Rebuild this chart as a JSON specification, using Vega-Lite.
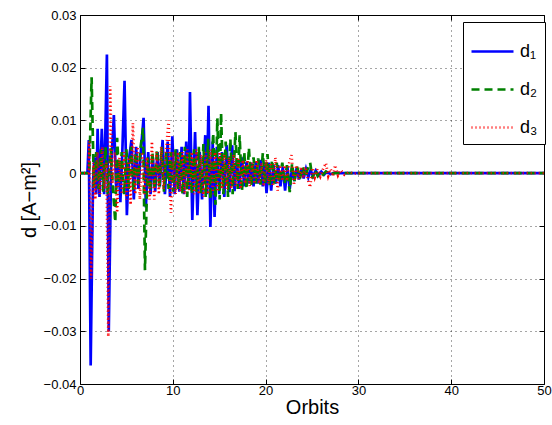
{
  "$schema": "https://vega.github.io/schema/vega-lite/v6.json",
  "width": 464,
  "height": 369,
  "autosize": {"type": "none"},
  "padding": {"left": 80, "top": 15, "right": 8, "bottom": 41},
  "background": "white",
  "config": {
    "font": "Liberation Sans",
    "view": {"stroke": "#000", "strokeWidth": 1},
    "axis": {
      "labelColor": "#000", "titleColor": "#000", "domain": false,
      "tickColor": "#000", "labelFontSize": 13, "titleFontSize": 20, "titleFontWeight": "normal"
    }
  },
  "data": {
    "values": [
      {"s": "d₁", "t": 0, "v": 0}, {"s": "d₁", "t": 0.8, "v": 0}, {"s": "d₁", "t": 0.95, "v": 0.0063},
      {"s": "d₁", "t": 1.15, "v": -0.0365}, {"s": "d₁", "t": 1.4, "v": -0.002}, {"s": "d₁", "t": 1.55, "v": 0.003},
      {"s": "d₁", "t": 1.75, "v": -0.004}, {"s": "d₁", "t": 1.9, "v": 0.0084}, {"s": "d₁", "t": 2.1, "v": -0.0045},
      {"s": "d₁", "t": 2.35, "v": 0.0084}, {"s": "d₁", "t": 2.6, "v": -0.004}, {"s": "d₁", "t": 2.9, "v": 0.0225},
      {"s": "d₁", "t": 3.1, "v": -0.03}, {"s": "d₁", "t": 3.35, "v": 0.001}, {"s": "d₁", "t": 3.65, "v": 0.011},
      {"s": "d₁", "t": 3.9, "v": -0.003}, {"s": "d₁", "t": 4.15, "v": 0.002}, {"s": "d₁", "t": 4.35, "v": -0.0055},
      {"s": "d₁", "t": 4.55, "v": 0.0035}, {"s": "d₁", "t": 4.8, "v": 0.0175}, {"s": "d₁", "t": 5.05, "v": -0.008},
      {"s": "d₁", "t": 5.3, "v": 0.003}, {"s": "d₁", "t": 5.55, "v": 0.0063}, {"s": "d₁", "t": 5.8, "v": -0.005},
      {"s": "d₁", "t": 6.05, "v": 0.005}, {"s": "d₁", "t": 6.3, "v": -0.003}, {"s": "d₁", "t": 6.55, "v": 0.004},
      {"s": "d₁", "t": 6.85, "v": 0.0105}, {"s": "d₁", "t": 7.1, "v": -0.0065}, {"s": "d₁", "t": 7.35, "v": 0.004},
      {"s": "d₁", "t": 7.6, "v": -0.004}, {"s": "d₁", "t": 7.85, "v": 0.003}, {"s": "d₁", "t": 8.1, "v": -0.0035},
      {"s": "d₁", "t": 8.35, "v": 0.004}, {"s": "d₁", "t": 8.6, "v": -0.0025}, {"s": "d₁", "t": 8.9, "v": 0.0063},
      {"s": "d₁", "t": 9.15, "v": -0.004}, {"s": "d₁", "t": 9.45, "v": 0.006}, {"s": "d₁", "t": 9.7, "v": -0.0045},
      {"s": "d₁", "t": 9.95, "v": 0.007}, {"s": "d₁", "t": 10.2, "v": -0.004}, {"s": "d₁", "t": 10.45, "v": 0.0045},
      {"s": "d₁", "t": 10.7, "v": -0.0035}, {"s": "d₁", "t": 10.95, "v": 0.005}, {"s": "d₁", "t": 11.2, "v": -0.004},
      {"s": "d₁", "t": 11.45, "v": 0.006}, {"s": "d₁", "t": 11.7, "v": -0.003}, {"s": "d₁", "t": 11.85, "v": 0.0154},
      {"s": "d₁", "t": 12.1, "v": -0.0089}, {"s": "d₁", "t": 12.4, "v": 0.0078}, {"s": "d₁", "t": 12.65, "v": -0.008},
      {"s": "d₁", "t": 12.9, "v": 0.004}, {"s": "d₁", "t": 13.15, "v": -0.005}, {"s": "d₁", "t": 13.5, "v": 0.0072},
      {"s": "d₁", "t": 13.65, "v": -0.004}, {"s": "d₁", "t": 13.85, "v": 0.0128}, {"s": "d₁", "t": 14.05, "v": -0.0102},
      {"s": "d₁", "t": 14.3, "v": 0.006}, {"s": "d₁", "t": 14.5, "v": -0.0083}, {"s": "d₁", "t": 14.75, "v": 0.005},
      {"s": "d₁", "t": 15.0, "v": -0.004}, {"s": "d₁", "t": 15.3, "v": 0.004}, {"s": "d₁", "t": 15.55, "v": -0.0045},
      {"s": "d₁", "t": 15.8, "v": 0.0053}, {"s": "d₁", "t": 16.1, "v": -0.0036}, {"s": "d₁", "t": 16.4, "v": 0.0053},
      {"s": "d₁", "t": 16.65, "v": -0.0034}, {"s": "d₁", "t": 16.9, "v": 0.0025}, {"s": "d₁", "t": 17.15, "v": -0.003},
      {"s": "d₁", "t": 17.45, "v": 0.003}, {"s": "d₁", "t": 17.7, "v": -0.0025}, {"s": "d₁", "t": 17.95, "v": 0.0022},
      {"s": "d₁", "t": 18.2, "v": -0.002}, {"s": "d₁", "t": 18.45, "v": 0.002}, {"s": "d₁", "t": 18.7, "v": -0.0025},
      {"s": "d₁", "t": 18.95, "v": 0.0022}, {"s": "d₁", "t": 19.2, "v": -0.002}, {"s": "d₁", "t": 19.45, "v": 0.0025},
      {"s": "d₁", "t": 19.7, "v": -0.0025}, {"s": "d₁", "t": 19.9, "v": 0.002}, {"s": "d₁", "t": 20.1, "v": -0.0038},
      {"s": "d₁", "t": 20.35, "v": 0.002}, {"s": "d₁", "t": 20.6, "v": -0.0033}, {"s": "d₁", "t": 20.85, "v": 0.0015},
      {"s": "d₁", "t": 21.1, "v": -0.002}, {"s": "d₁", "t": 21.35, "v": 0.0015}, {"s": "d₁", "t": 21.6, "v": -0.0025},
      {"s": "d₁", "t": 21.85, "v": 0.0012}, {"s": "d₁", "t": 22.1, "v": -0.0033}, {"s": "d₁", "t": 22.35, "v": 0.0012},
      {"s": "d₁", "t": 22.6, "v": -0.003}, {"s": "d₁", "t": 22.85, "v": 0.001}, {"s": "d₁", "t": 23.1, "v": -0.0015},
      {"s": "d₁", "t": 23.35, "v": 0.001}, {"s": "d₁", "t": 23.6, "v": -0.0012}, {"s": "d₁", "t": 23.85, "v": 0.0008},
      {"s": "d₁", "t": 24.1, "v": -0.001}, {"s": "d₁", "t": 24.35, "v": 0.0008}, {"s": "d₁", "t": 24.6, "v": -0.0008},
      {"s": "d₁", "t": 24.85, "v": 0.0006}, {"s": "d₁", "t": 25.1, "v": -0.0006}, {"s": "d₁", "t": 25.4, "v": 0.0005},
      {"s": "d₁", "t": 25.7, "v": -0.0004}, {"s": "d₁", "t": 26.0, "v": 0.0003}, {"s": "d₁", "t": 26.3, "v": -0.0003},
      {"s": "d₁", "t": 26.6, "v": 0.0002}, {"s": "d₁", "t": 27.0, "v": -0.0002}, {"s": "d₁", "t": 27.5, "v": 0.0001},
      {"s": "d₁", "t": 28, "v": 0}, {"s": "d₁", "t": 50, "v": 0},

      {"s": "d₂", "t": 0, "v": 0}, {"s": "d₂", "t": 1.0, "v": 0}, {"s": "d₂", "t": 1.25, "v": 0.0182},
      {"s": "d₂", "t": 1.5, "v": -0.0028}, {"s": "d₂", "t": 1.75, "v": 0.004}, {"s": "d₂", "t": 2.0, "v": -0.003},
      {"s": "d₂", "t": 2.25, "v": 0.0045}, {"s": "d₂", "t": 2.5, "v": -0.0035}, {"s": "d₂", "t": 2.75, "v": 0.005},
      {"s": "d₂", "t": 3.0, "v": -0.004}, {"s": "d₂", "t": 3.3, "v": 0.0047}, {"s": "d₂", "t": 3.55, "v": -0.003},
      {"s": "d₂", "t": 3.8, "v": -0.0093}, {"s": "d₂", "t": 4.0, "v": 0.0067}, {"s": "d₂", "t": 4.25, "v": -0.002},
      {"s": "d₂", "t": 4.5, "v": 0.004}, {"s": "d₂", "t": 4.75, "v": -0.004}, {"s": "d₂", "t": 5.0, "v": 0.0045},
      {"s": "d₂", "t": 5.25, "v": -0.003}, {"s": "d₂", "t": 5.5, "v": 0.005}, {"s": "d₂", "t": 5.75, "v": -0.0035},
      {"s": "d₂", "t": 6.0, "v": 0.004}, {"s": "d₂", "t": 6.25, "v": -0.002}, {"s": "d₂", "t": 6.5, "v": 0.0045},
      {"s": "d₂", "t": 6.8, "v": 0.0086}, {"s": "d₂", "t": 7.0, "v": -0.0184}, {"s": "d₂", "t": 7.3, "v": 0.003},
      {"s": "d₂", "t": 7.55, "v": -0.0035}, {"s": "d₂", "t": 7.8, "v": 0.004}, {"s": "d₂", "t": 8.05, "v": -0.003},
      {"s": "d₂", "t": 8.3, "v": 0.0045}, {"s": "d₂", "t": 8.55, "v": -0.003}, {"s": "d₂", "t": 8.8, "v": 0.005},
      {"s": "d₂", "t": 9.05, "v": -0.0035}, {"s": "d₂", "t": 9.3, "v": 0.004}, {"s": "d₂", "t": 9.55, "v": -0.003},
      {"s": "d₂", "t": 9.8, "v": 0.004}, {"s": "d₂", "t": 10.05, "v": -0.0035}, {"s": "d₂", "t": 10.3, "v": 0.0045},
      {"s": "d₂", "t": 10.55, "v": -0.003}, {"s": "d₂", "t": 10.8, "v": 0.004}, {"s": "d₂", "t": 11.05, "v": -0.004},
      {"s": "d₂", "t": 11.3, "v": 0.005}, {"s": "d₂", "t": 11.55, "v": -0.0045}, {"s": "d₂", "t": 11.8, "v": 0.004},
      {"s": "d₂", "t": 12.05, "v": -0.004}, {"s": "d₂", "t": 12.3, "v": 0.0045}, {"s": "d₂", "t": 12.55, "v": -0.0035},
      {"s": "d₂", "t": 12.8, "v": 0.005}, {"s": "d₂", "t": 13.05, "v": -0.004}, {"s": "d₂", "t": 13.3, "v": 0.0055},
      {"s": "d₂", "t": 13.55, "v": -0.0045}, {"s": "d₂", "t": 13.8, "v": 0.0065}, {"s": "d₂", "t": 14.05, "v": -0.005},
      {"s": "d₂", "t": 14.35, "v": 0.0076}, {"s": "d₂", "t": 14.6, "v": -0.006}, {"s": "d₂", "t": 14.8, "v": 0.0104},
      {"s": "d₂", "t": 15.05, "v": -0.005}, {"s": "d₂", "t": 15.2, "v": 0.0114}, {"s": "d₂", "t": 15.45, "v": -0.004},
      {"s": "d₂", "t": 15.7, "v": 0.006}, {"s": "d₂", "t": 15.95, "v": -0.0045}, {"s": "d₂", "t": 16.2, "v": 0.0065},
      {"s": "d₂", "t": 16.45, "v": -0.004}, {"s": "d₂", "t": 16.75, "v": 0.0078}, {"s": "d₂", "t": 17.0, "v": -0.003},
      {"s": "d₂", "t": 17.2, "v": 0.0072}, {"s": "d₂", "t": 17.45, "v": -0.0035}, {"s": "d₂", "t": 17.7, "v": 0.004},
      {"s": "d₂", "t": 17.95, "v": -0.003}, {"s": "d₂", "t": 18.2, "v": 0.0048}, {"s": "d₂", "t": 18.45, "v": -0.0025},
      {"s": "d₂", "t": 18.7, "v": 0.003}, {"s": "d₂", "t": 18.95, "v": -0.002}, {"s": "d₂", "t": 19.2, "v": 0.0028},
      {"s": "d₂", "t": 19.45, "v": -0.0022}, {"s": "d₂", "t": 19.7, "v": 0.0038}, {"s": "d₂", "t": 19.95, "v": -0.002},
      {"s": "d₂", "t": 20.2, "v": 0.0036}, {"s": "d₂", "t": 20.45, "v": -0.0025}, {"s": "d₂", "t": 20.7, "v": 0.0025},
      {"s": "d₂", "t": 20.95, "v": -0.002}, {"s": "d₂", "t": 21.2, "v": 0.002}, {"s": "d₂", "t": 21.45, "v": -0.0018},
      {"s": "d₂", "t": 21.8, "v": 0.002}, {"s": "d₂", "t": 22.05, "v": -0.002}, {"s": "d₂", "t": 22.3, "v": 0.0015},
      {"s": "d₂", "t": 22.6, "v": -0.0036}, {"s": "d₂", "t": 22.85, "v": 0.0018}, {"s": "d₂", "t": 23.1, "v": -0.0015},
      {"s": "d₂", "t": 23.4, "v": 0.0012}, {"s": "d₂", "t": 23.7, "v": -0.001}, {"s": "d₂", "t": 24.0, "v": 0.0012},
      {"s": "d₂", "t": 24.3, "v": -0.0008}, {"s": "d₂", "t": 24.55, "v": 0.0009}, {"s": "d₂", "t": 24.8, "v": 0.002},
      {"s": "d₂", "t": 25.05, "v": -0.001}, {"s": "d₂", "t": 25.3, "v": 0.0006}, {"s": "d₂", "t": 25.6, "v": -0.0005},
      {"s": "d₂", "t": 25.9, "v": 0.0004}, {"s": "d₂", "t": 26.2, "v": -0.0003}, {"s": "d₂", "t": 26.5, "v": 0.0003},
      {"s": "d₂", "t": 27.0, "v": -0.0002}, {"s": "d₂", "t": 27.5, "v": 0}, {"s": "d₂", "t": 50, "v": 0},

      {"s": "d₃", "t": 0, "v": 0}, {"s": "d₃", "t": 0.9, "v": 0}, {"s": "d₃", "t": 1.0, "v": 0.006},
      {"s": "d₃", "t": 1.2, "v": -0.02}, {"s": "d₃", "t": 1.45, "v": 0.002}, {"s": "d₃", "t": 1.65, "v": -0.005},
      {"s": "d₃", "t": 1.9, "v": 0.004}, {"s": "d₃", "t": 2.15, "v": -0.004}, {"s": "d₃", "t": 2.4, "v": 0.005},
      {"s": "d₃", "t": 2.65, "v": -0.003}, {"s": "d₃", "t": 2.85, "v": 0.002}, {"s": "d₃", "t": 3.05, "v": -0.031},
      {"s": "d₃", "t": 3.25, "v": 0.0165}, {"s": "d₃", "t": 3.5, "v": -0.002}, {"s": "d₃", "t": 3.75, "v": 0.004},
      {"s": "d₃", "t": 4.0, "v": -0.0075}, {"s": "d₃", "t": 4.25, "v": 0.003}, {"s": "d₃", "t": 4.5, "v": -0.004},
      {"s": "d₃", "t": 4.75, "v": 0.004}, {"s": "d₃", "t": 5.0, "v": -0.005}, {"s": "d₃", "t": 5.25, "v": 0.003},
      {"s": "d₃", "t": 5.45, "v": -0.006}, {"s": "d₃", "t": 5.7, "v": 0.0095}, {"s": "d₃", "t": 5.95, "v": -0.004},
      {"s": "d₃", "t": 6.2, "v": 0.005}, {"s": "d₃", "t": 6.45, "v": -0.005}, {"s": "d₃", "t": 6.7, "v": 0.004},
      {"s": "d₃", "t": 6.95, "v": -0.004}, {"s": "d₃", "t": 7.2, "v": 0.003}, {"s": "d₃", "t": 7.5, "v": -0.005},
      {"s": "d₃", "t": 7.75, "v": 0.006}, {"s": "d₃", "t": 8.0, "v": -0.005}, {"s": "d₃", "t": 8.25, "v": 0.004},
      {"s": "d₃", "t": 8.5, "v": -0.004}, {"s": "d₃", "t": 8.75, "v": 0.005}, {"s": "d₃", "t": 9.0, "v": -0.003},
      {"s": "d₃", "t": 9.25, "v": 0.004}, {"s": "d₃", "t": 9.55, "v": 0.01}, {"s": "d₃", "t": 9.8, "v": -0.0075},
      {"s": "d₃", "t": 10.05, "v": 0.004}, {"s": "d₃", "t": 10.3, "v": -0.004}, {"s": "d₃", "t": 10.55, "v": 0.004},
      {"s": "d₃", "t": 10.8, "v": -0.0035}, {"s": "d₃", "t": 11.05, "v": 0.004}, {"s": "d₃", "t": 11.3, "v": -0.004},
      {"s": "d₃", "t": 11.55, "v": 0.0045}, {"s": "d₃", "t": 11.8, "v": -0.0035}, {"s": "d₃", "t": 12.05, "v": 0.004},
      {"s": "d₃", "t": 12.3, "v": -0.004}, {"s": "d₃", "t": 12.55, "v": 0.0045}, {"s": "d₃", "t": 12.8, "v": -0.004},
      {"s": "d₃", "t": 13.05, "v": 0.0035}, {"s": "d₃", "t": 13.3, "v": -0.0045}, {"s": "d₃", "t": 13.55, "v": 0.004},
      {"s": "d₃", "t": 13.8, "v": -0.004}, {"s": "d₃", "t": 14.05, "v": 0.0045}, {"s": "d₃", "t": 14.3, "v": -0.004},
      {"s": "d₃", "t": 14.55, "v": 0.004}, {"s": "d₃", "t": 14.8, "v": -0.0035}, {"s": "d₃", "t": 15.05, "v": 0.004},
      {"s": "d₃", "t": 15.3, "v": -0.003}, {"s": "d₃", "t": 15.55, "v": 0.0035}, {"s": "d₃", "t": 15.8, "v": -0.003},
      {"s": "d₃", "t": 16.05, "v": 0.003}, {"s": "d₃", "t": 16.3, "v": -0.003}, {"s": "d₃", "t": 16.55, "v": 0.0035},
      {"s": "d₃", "t": 16.8, "v": -0.0025}, {"s": "d₃", "t": 17.05, "v": 0.003}, {"s": "d₃", "t": 17.3, "v": -0.003},
      {"s": "d₃", "t": 17.55, "v": 0.0025}, {"s": "d₃", "t": 17.8, "v": -0.002}, {"s": "d₃", "t": 18.05, "v": 0.0025},
      {"s": "d₃", "t": 18.3, "v": -0.0025}, {"s": "d₃", "t": 18.55, "v": 0.002}, {"s": "d₃", "t": 18.8, "v": -0.002},
      {"s": "d₃", "t": 19.05, "v": 0.0025}, {"s": "d₃", "t": 19.3, "v": -0.002}, {"s": "d₃", "t": 19.55, "v": 0.002},
      {"s": "d₃", "t": 19.8, "v": -0.0025}, {"s": "d₃", "t": 20.05, "v": 0.0025}, {"s": "d₃", "t": 20.3, "v": -0.002},
      {"s": "d₃", "t": 20.55, "v": 0.002}, {"s": "d₃", "t": 20.8, "v": -0.0025}, {"s": "d₃", "t": 21.05, "v": 0.003},
      {"s": "d₃", "t": 21.3, "v": -0.0033}, {"s": "d₃", "t": 21.55, "v": 0.0015}, {"s": "d₃", "t": 21.8, "v": -0.0015},
      {"s": "d₃", "t": 22.05, "v": 0.0015}, {"s": "d₃", "t": 22.3, "v": -0.0015}, {"s": "d₃", "t": 22.55, "v": 0.002},
      {"s": "d₃", "t": 22.8, "v": 0.0034}, {"s": "d₃", "t": 23.05, "v": -0.0023}, {"s": "d₃", "t": 23.3, "v": 0.0015},
      {"s": "d₃", "t": 23.55, "v": -0.0012}, {"s": "d₃", "t": 23.8, "v": 0.0012}, {"s": "d₃", "t": 24.05, "v": -0.001},
      {"s": "d₃", "t": 24.3, "v": 0.0012}, {"s": "d₃", "t": 24.55, "v": -0.0012}, {"s": "d₃", "t": 24.8, "v": -0.0027},
      {"s": "d₃", "t": 25.05, "v": 0.001}, {"s": "d₃", "t": 25.3, "v": -0.0008}, {"s": "d₃", "t": 25.6, "v": 0.0008},
      {"s": "d₃", "t": 25.9, "v": -0.0006}, {"s": "d₃", "t": 26.2, "v": 0.0008}, {"s": "d₃", "t": 26.5, "v": 0.0019},
      {"s": "d₃", "t": 26.75, "v": -0.0005}, {"s": "d₃", "t": 27.0, "v": 0.0008}, {"s": "d₃", "t": 27.25, "v": -0.0006},
      {"s": "d₃", "t": 27.5, "v": 0.0015}, {"s": "d₃", "t": 27.8, "v": -0.0004}, {"s": "d₃", "t": 28.1, "v": 0.0006},
      {"s": "d₃", "t": 28.5, "v": -0.0003}, {"s": "d₃", "t": 29, "v": 0.0002}, {"s": "d₃", "t": 29.5, "v": -0.0001},
      {"s": "d₃", "t": 30, "v": 0}, {"s": "d₃", "t": 50, "v": 0}
    ]
  },
  "layer": [
    {
      "mark": {"type": "line", "strokeCap": "butt", "strokeJoin": "miter"},
      "encoding": {
        "x": {
          "field": "t", "type": "quantitative",
          "scale": {"domain": [0, 50], "nice": false, "zero": false},
          "axis": {
            "title": "Orbits", "values": [0, 10, 20, 30, 40, 50], "tickSize": -5,
            "labelPadding": 5, "titlePadding": 0, "grid": true, "gridColor": "#000",
            "gridDash": [1, 4], "gridOpacity": 0.7, "labelFlush": false
          }
        },
        "y": {
          "field": "v", "type": "quantitative",
          "scale": {"domain": [-0.04, 0.03], "nice": false, "zero": false},
          "axis": {
            "title": "d [A−m²]", "values": [-0.04, -0.03, -0.02, -0.01, 0, 0.01, 0.02, 0.03],
            "format": "~g", "tickSize": -5, "labelPadding": 9, "titlePadding": 4,
            "grid": true, "gridColor": "#000", "gridDash": [1, 4], "gridOpacity": 0.7
          }
        },
        "color": {
          "field": "s", "type": "nominal",
          "scale": {"domain": ["d₁", "d₂", "d₃"], "range": ["#0000ff", "#008000", "#ff0000"]},
          "legend": {
            "orient": "none", "legendX": 383, "legendY": 7, "title": null,
            "fillColor": "white", "strokeColor": "#000", "padding": 7,
            "symbolType": "stroke", "symbolSize": 1764, "labelFontSize": 18,
            "rowPadding": 6, "labelOffset": 5, "labelColor": "#000"
          }
        },
        "strokeDash": {
          "field": "s", "type": "nominal",
          "scale": {"domain": ["d₁", "d₂", "d₃"], "range": [[1, 0], [8, 5], [1, 3]]}
        },
        "strokeWidth": {
          "field": "s", "type": "nominal",
          "scale": {"domain": ["d₁", "d₂", "d₃"], "range": [2.7, 2.7, 1.2]}
        }
      }
    },
    {
      "data": {"values": [{"t": 0, "v": 0}]},
      "mark": {"type": "point", "opacity": 0},
      "encoding": {
        "x": {
          "field": "t", "type": "quantitative",
          "axis": {"orient": "top", "values": [0, 10, 20, 30, 40, 50], "tickSize": -5, "labels": false, "title": null, "grid": false}
        },
        "y": {
          "field": "v", "type": "quantitative",
          "axis": {"orient": "right", "values": [-0.04, -0.03, -0.02, -0.01, 0, 0.01, 0.02, 0.03], "tickSize": -5, "labels": false, "title": null, "grid": false}
        }
      }
    }
  ],
  "resolve": {"axis": {"x": "independent", "y": "independent"}}
}
